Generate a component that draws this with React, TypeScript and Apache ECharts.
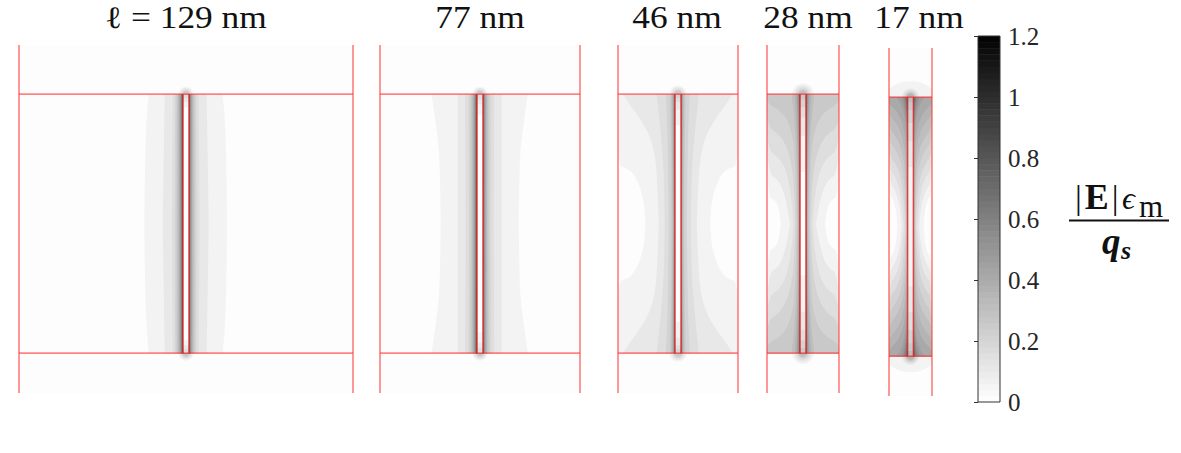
import React, { useEffect, useRef } from "react";
import * as echarts from "echarts";

// Each contour: [level, [[depth below the pore mouth (nm), half-width from the pore axis (nm)], ...]]
// Each level k is the 0.05-wide band of |E|em/qs starting at k*0.05. Curves are mirrored about depth = 50 nm.
type Contour = [number, number[][]];

const titles = ["\u2113 = 129 nm", "77 nm", "46 nm", "28 nm", "17 nm"];
const channelLengths = [129, 77, 46, 28, 17];
const colorbarTicks = [0, 0.2, 0.4, 0.6, 0.8, 1, 1.2];
const poreHalfWidth = 1.15;
const membraneDepth = 100;

const contours129: Contour[] = [
  [1, [[0, 14.3], [8, 15], [20, 15.6], [50, 16]]],
  [2, [[0, 8.1], [50, 8.9]]],
  [3, [[0, 5], [50, 5.4]]],
  [4, [[0, 4.05], [50, 4.25]]],
  [5, [[0, 3.5], [50, 3.6]]],
  [6, [[0, 3.05], [50, 3.1]]],
  [7, [[0, 2.7], [50, 2.7]]],
  [8, [[0, 2.4], [50, 2.4]]],
  [9, [[0, 2.15], [50, 2.15]]],
  [10, [[0, 1.95], [50, 1.95]]],
  [11, [[0, 1.8], [50, 1.8]]],
  [12, [[0, 1.62], [50, 1.62]]],
  [13, [[0, 1.48], [50, 1.48]]],
  [14, [[0, 1.36], [50, 1.36]]],
  [15, [[0, 1.25], [50, 1.25]]],
];
const contours77: Contour[] = [
  [1, [[0, 18.5], [8, 17.4], [16.6, 16.2], [25, 15.4], [50, 15]]],
  [2, [[0, 8.4], [50, 8.4]]],
  [3, [[0, 5.6], [50, 5.4]]],
  [4, [[0, 4.2], [50, 4.1]]],
  [5, [[0, 3.5], [50, 3.4]]],
  [6, [[0, 3.05], [50, 2.95]]],
  [7, [[0, 2.65], [50, 2.6]]],
  [8, [[0, 2.4], [50, 2.3]]],
  [9, [[0, 2.15], [50, 2.1]]],
  [10, [[0, 1.95], [50, 1.9]]],
  [11, [[0, 1.75], [50, 1.7]]],
  [12, [[0, 1.6], [50, 1.55]]],
  [13, [[0, 1.45], [50, 1.42]]],
  [14, [[0, 1.33], [50, 1.3]]],
  [15, [[0, 1.22], [50, 1.2]]],
];
const contours46: Contour[] = [
  [1, [[0, 23.5], [27.5, 23.5], [28.5, 20], [30, 17.5], [34.4, 15], [41, 13], [50, 12.4]]],
  [2, [[0, 21], [4, 18.5], [9, 14.7], [16.5, 10.4], [27, 8.1], [50, 7.3]]],
  [3, [[0, 8.1], [15, 6.5], [30, 5.3], [50, 5]]],
  [4, [[0, 4.6], [15, 3.9], [50, 3.4]]],
  [5, [[0, 3], [15, 2.7], [50, 2.5]]],
  [6, [[0, 2.5], [15, 2.3], [50, 2.1]]],
  [7, [[0, 2.1], [50, 1.85]]],
  [8, [[0, 1.9], [50, 1.65]]],
  [9, [[0, 1.7], [50, 1.5]]],
  [10, [[0, 1.55], [50, 1.38]]],
  [11, [[0, 1.4], [50, 1.28]]],
  [12, [[0, 1.3], [50, 1.2]]],
];
const contours28: Contour[] = [
  [1, [[0, 14], [39.5, 14], [41, 10.5], [45, 9.2], [50, 8.6]]],
  [2, [[0, 14], [30.5, 14], [33.5, 9], [41.5, 6.5], [50, 5]]],
  [3, [[0, 14], [21.5, 14], [24.8, 8.9], [31, 6], [41.5, 4.3], [50, 3.7]]],
  [4, [[0, 14], [12.5, 14], [15.7, 8.9], [22, 5.5], [32.5, 3.6], [50, 2.9]]],
  [5, [[0, 14], [3.5, 14], [6.8, 8.2], [12, 5], [22, 3.1], [50, 2.4]]],
  [6, [[0, 4.4], [10, 3.3], [25, 2.4], [50, 2.05]]],
  [7, [[0, 3.2], [10, 2.6], [25, 2.05], [50, 1.8]]],
  [8, [[0, 2.6], [10, 2.2], [25, 1.8], [50, 1.6]]],
  [9, [[0, 2.2], [10, 1.9], [25, 1.6], [50, 1.45]]],
  [10, [[0, 1.9], [10, 1.7], [25, 1.45], [50, 1.3]]],
  [11, [[0, 1.7], [10, 1.5], [25, 1.3], [50, 1.2]]],
  [12, [[0, 1.5], [10, 1.35], [25, 1.2]]],
  [13, [[0, 1.35], [10, 1.22]]],
  [14, [[0, 1.25], [5, 1.17]]],
];
const contours17: Contour[] = [
  [1, [[0, 8.5], [37.5, 8.5], [39.5, 6.8], [44, 5.6], [50, 5.2]]],
  [2, [[0, 8.5], [32.5, 8.5], [36, 6], [42, 4.2], [50, 3.4]]],
  [3, [[0, 8.5], [27.5, 8.5], [31, 5.8], [37, 3.8], [50, 2.6]]],
  [4, [[0, 8.5], [22.5, 8.5], [26, 5.6], [32, 3.5], [42, 2.4], [50, 2.1]]],
  [5, [[0, 8.5], [17, 8.5], [21, 5.4], [27, 3.2], [37, 2.1], [50, 1.75]]],
  [6, [[0, 8.5], [12, 8.5], [16, 5.2], [22, 2.9], [32, 1.9], [50, 1.5]]],
  [7, [[0, 8.5], [7, 8.5], [11, 4.8], [17, 2.7], [27, 1.7], [50, 1.35]]],
  [8, [[0, 8.5], [2.6, 8.5], [6, 4.8], [12, 2.5], [22, 1.5], [50, 1.25]]],
  [9, [[0, 5.5], [3, 3.5], [8, 2.2], [18, 1.4], [30, 1.2]]],
  [10, [[0, 3.6], [4, 2.4], [10, 1.6], [22, 1.2]]],
  [11, [[0, 2.8], [4, 1.9], [10, 1.35], [16, 1.2]]],
  [12, [[0, 2.3], [5, 1.5], [12, 1.2]]],
  [13, [[0, 1.9], [6, 1.3], [9, 1.2]]],
  [14, [[0, 1.6], [4, 1.2]]],
  [15, [[0, 1.4], [2, 1.2]]],
];

// Glow above and below the pore mouths: [level, half-width (nm), reach outside the membrane (nm)]
const mouths129 = [[1, 2.9, 2.9], [2, 2.4, 2.4], [3, 1.9, 1.9], [4, 1.5, 1.5], [5, 1.2, 1.2]];
const mouths77 = [[1, 2.9, 2.9], [2, 2.4, 2.4], [3, 1.9, 1.9], [4, 1.5, 1.5], [5, 1.2, 1.2]];
const mouths46 = [[1, 3.3, 3.3], [2, 2.7, 2.7], [3, 2.1, 2.1], [4, 1.7, 1.7], [5, 1.3, 1.3]];
const mouths28 = [[1, 4.2, 4.2], [2, 3.4, 3.4], [3, 2.7, 2.7], [4, 2.1, 2.1], [5, 1.7, 1.7], [6, 1.3, 1.3]];
const mouths17 = [[1, 9.5, 6.2], [2, 3.4, 3.4], [3, 2.8, 2.8], [4, 2.3, 2.3], [5, 1.9, 1.9], [6, 1.6, 1.6], [7, 1.3, 1.3]];

// Inside the pore: [depth from which this level holds, level]
const pore129 = [[0, 3], [1.5, 2], [3, 1], [5, 0]];
const pore77 = [[0, 3], [2, 2], [4, 1], [8, 0]];
const pore46 = [[0, 4], [1.5, 3], [3, 2], [6, 1], [12, 0]];
const pore28 = [[0, 5], [2, 4], [5, 3], [9, 2], [16, 1], [30, 0]];
const pore17 = [[0, 6], [2, 5], [5, 4], [10, 3], [17, 2], [27, 1]];

const contourSets = [contours129, contours77, contours46, contours28, contours17];
const mouthSets = [mouths129, mouths77, mouths46, mouths28, mouths17];
const poreSets = [pore129, pore77, pore46, pore28, pore17];
// the bands sit a little left of the pore axis in the wide panels (nm)
const bandOffset = [-0.12, -0.12, -0.08, 0, 0];

const colorStep = 0.02;
const colorStepValues: number[] = [];
for (let k = 0; k < 60; k++) colorStepValues.push(k * colorStep);

// layout (pixels)
const panelLeft = [19, 380, 618, 767, 889];
const panelWidth = [334, 200, 120, 72, 43];
const panelTop = [45, 45, 45, 45, 48];
const panelHeight = 348;
const titleX = [186, 480, 677, 808, 919];
const DEPTH_MIN = -19;
const DEPTH_MAX = 115.4;
const SERIF = "'Liberation Serif', serif";
const RED = "rgba(255,45,45,0.58)";
const RED_INNER = "rgba(225,25,25,0.8)";
const INK = "#111";

function levelColor(k: number) {
  const g = Math.round(253 - 10.5 * k);
  return `rgb(${g},${g},${g})`;
}

// corner rounding of a contour read at a few stations (end points stay put)
function roundCorners(pts: number[][], passes: number) {
  let cur = pts;
  for (let p = 0; p < passes; p++) {
    const next: number[][] = [cur[0]];
    for (let i = 0; i < cur.length - 1; i++) {
      const [a, b] = [cur[i], cur[i + 1]];
      next.push([a[0] * 0.75 + b[0] * 0.25, a[1] * 0.75 + b[1] * 0.25]);
      next.push([a[0] * 0.25 + b[0] * 0.75, a[1] * 0.25 + b[1] * 0.75]);
    }
    next.push(cur[cur.length - 1]);
    cur = next;
  }
  return cur;
}

type Shape = { level: number; pts: number[][] };

function buildShapes(i: number): Shape[] {
  const half = channelLengths[i] / 2;
  const off = bandOffset[i];
  const clampX = (x: number) => Math.max(-half, Math.min(half, x));
  const out: Shape[] = [];
  for (const [level, rx, ry] of mouthSets[i]) {
    const top: number[][] = [];
    const bottom: number[][] = [];
    for (let a = 0; a <= 24; a++) {
      const t = (a / 24) * Math.PI;
      const x = clampX(-rx * Math.cos(t));
      const d = ry * Math.sin(t);
      top.push([x, -d]);
      bottom.push([x, membraneDepth + d]);
    }
    out.push({ level, pts: top }, { level, pts: bottom });
  }
  for (const [level, curve] of contourSets[i]) {
    const chain: number[][] = curve.map(([d, w]) => [Math.min(w, half), d]);
    for (let j = curve.length - 1; j >= 0; j--) {
      chain.push([Math.min(curve[j][1], half), membraneDepth - curve[j][0]]);
    }
    const right = roundCorners(chain, 3);
    const left = right.map(([x, d]) => [-x, d]).reverse();
    const shift = (p: number[]) => [clampX(p[0] + off), p[1]];
    out.push({ level, pts: right.map(shift).concat(left.map(shift)) });
  }
  for (const [d, level] of poreSets[i]) {
    out.push({
      level,
      pts: [
        [-poreHalfWidth, d],
        [poreHalfWidth, d],
        [poreHalfWidth, membraneDepth - d],
        [-poreHalfWidth, membraneDepth - d],
      ],
    });
  }
  return out;
}

function redLine(i: number, pts: number[][], color: string, width: number) {
  return {
    type: "line",
    xAxisIndex: i,
    yAxisIndex: i,
    data: pts,
    showSymbol: false,
    symbol: "none",
    clip: false,
    silent: true,
    z: 5,
    lineStyle: { color, width },
  };
}

function buildOption() {
  const grid: any[] = [];
  const xAxis: any[] = [];
  const yAxis: any[] = [];
  const series: any[] = [];

  channelLengths.forEach((len, i) => {
    const half = len / 2;
    grid.push({
      left: panelLeft[i],
      top: panelTop[i],
      width: panelWidth[i],
      height: panelHeight,
      show: true,
      backgroundColor: "#fdfdfd",
      borderWidth: 0,
    });
    xAxis.push({ type: "value", gridIndex: i, min: -half, max: half, show: false });
    yAxis.push({ type: "value", gridIndex: i, min: DEPTH_MIN, max: DEPTH_MAX, inverse: true, show: false });
    const shapes = buildShapes(i);
    series.push({
      type: "custom",
      xAxisIndex: i,
      yAxisIndex: i,
      silent: true,
      z: 2,
      data: shapes.map((_, j) => [0, 0, j]),
      renderItem: (_: any, api: any) => {
        const s = shapes[api.value(2)];
        return {
          type: "polygon",
          shape: { points: s.pts.map((p) => api.coord(p)) },
          style: { fill: levelColor(s.level), stroke: "none" },
        };
      },
    });
    series.push(
      redLine(i, [[-half, DEPTH_MIN], [-half, DEPTH_MAX]], RED, 1.7),
      redLine(i, [[half, DEPTH_MIN], [half, DEPTH_MAX]], RED, 1.7),
      redLine(i, [[-half, 0], [half, 0]], RED, 1.7),
      redLine(i, [[-half, membraneDepth], [half, membraneDepth]], RED, 1.7),
      redLine(i, [[-poreHalfWidth, 0], [-poreHalfWidth, membraneDepth]], RED_INNER, 1.5),
      redLine(i, [[poreHalfWidth, 0], [poreHalfWidth, membraneDepth]], RED_INNER, 1.5)
    );
  });

  // colour bar
  const cb = channelLengths.length;
  grid.push({ left: 978, top: 36, width: 22, height: 366, show: false });
  xAxis.push({ type: "value", gridIndex: cb, min: 0, max: 1, show: false });
  yAxis.push({
    type: "value",
    gridIndex: cb,
    min: colorbarTicks[0],
    max: colorbarTicks[colorbarTicks.length - 1],
    interval: 0.2,
    position: "right",
    splitLine: { show: false },
    axisLine: { show: false },
    axisTick: { show: true, inside: true, length: 4, lineStyle: { color: "#333", width: 1 } },
    axisLabel: {
      show: true,
      margin: 8,
      fontFamily: SERIF,
      fontSize: 25,
      color: "#262626",
      padding: [0, 0, 3, 0],
      showMinLabel: true,
      showMaxLabel: true,
      formatter: (v: number) => String(Math.round(v * 10) / 10),
    },
    z: 8,
  });
  series.push({
    type: "custom",
    xAxisIndex: cb,
    yAxisIndex: cb,
    silent: true,
    z: 2,
    data: colorStepValues.map((v) => [0, v]),
    renderItem: (_: any, api: any) => {
      const v = api.value(1);
      const a = api.coord([0, v + colorStep]);
      const b = api.coord([1, v]);
      return {
        type: "rect",
        shape: { x: a[0], y: a[1], width: b[0] - a[0], height: b[1] - a[1] + 0.5 },
        style: { fill: levelColor(v / 0.05), stroke: "none" },
      };
    },
  });
  // frame of the colour bar
  series.push({
    type: "custom",
    xAxisIndex: cb,
    yAxisIndex: cb,
    silent: true,
    z: 3,
    data: [[0, 0]],
    renderItem: (_: any, api: any) => {
      const a = api.coord([0, colorbarTicks[colorbarTicks.length - 1]]);
      const b = api.coord([1, colorbarTicks[0]]);
      return {
        type: "rect",
        shape: { x: a[0], y: a[1], width: b[0] - a[0], height: b[1] - a[1] },
        style: { fill: "none", stroke: "#333", lineWidth: 1 },
      };
    },
  });

  const graphic: any[] = titles.map((t, i) => ({
    type: "text",
    x: titleX[i],
    y: 17.5,
    scaleX: 1.14,
    style: {
      text: t,
      fontFamily: SERIF,
      fontSize: 31,
      fill: INK,
      textAlign: "center",
      textVerticalAlign: "middle",
    },
  }));
  graphic.push(
    {
      type: "text",
      x: 1072,
      y: 197,
      style: {
        text: "{n||}{b|E}{n||}",
        textVerticalAlign: "middle",
        rich: {
          n: { fontFamily: SERIF, fontSize: 34, fill: INK, padding: [0, 3, 0, 3] },
          b: { fontFamily: SERIF, fontSize: 36, fontWeight: "bold", fill: INK },
        },
      },
    },
    {
      type: "text",
      x: 1122,
      y: 198,
      style: { text: "\u03f5", fontFamily: SERIF, fontSize: 32, fontStyle: "italic", fill: INK, textVerticalAlign: "middle" },
    },
    {
      type: "text",
      x: 1139,
      y: 206,
      style: { text: "m", fontFamily: SERIF, fontSize: 31, fill: INK, textVerticalAlign: "middle" },
    },
    { type: "rect", shape: { x: 1069, y: 219.5, width: 100, height: 2 }, style: { fill: INK } },
    {
      type: "text",
      x: 1102,
      y: 241,
      style: {
        text: "q",
        fontFamily: SERIF,
        fontSize: 37,
        fontStyle: "italic",
        fontWeight: "bold",
        fill: INK,
        textVerticalAlign: "middle",
      },
    },
    {
      type: "text",
      x: 1121,
      y: 250,
      style: {
        text: "s",
        fontFamily: SERIF,
        fontSize: 26,
        fontStyle: "italic",
        fontWeight: "bold",
        fill: INK,
        textVerticalAlign: "middle",
      },
    }
  );

  return { animation: false, backgroundColor: "#fff", grid, xAxis, yAxis, series, graphic };
}

export default function App() {
  const ref = useRef<HTMLDivElement>(null);
  useEffect(() => {
    const chart = echarts.init(ref.current!, undefined, { renderer: "svg" });
    chart.setOption(buildOption() as any);
    return () => chart.dispose();
  }, []);
  return <div ref={ref} style={{ position: "absolute", left: 0, top: 0, width: 1181, height: 453 }} />;
}
